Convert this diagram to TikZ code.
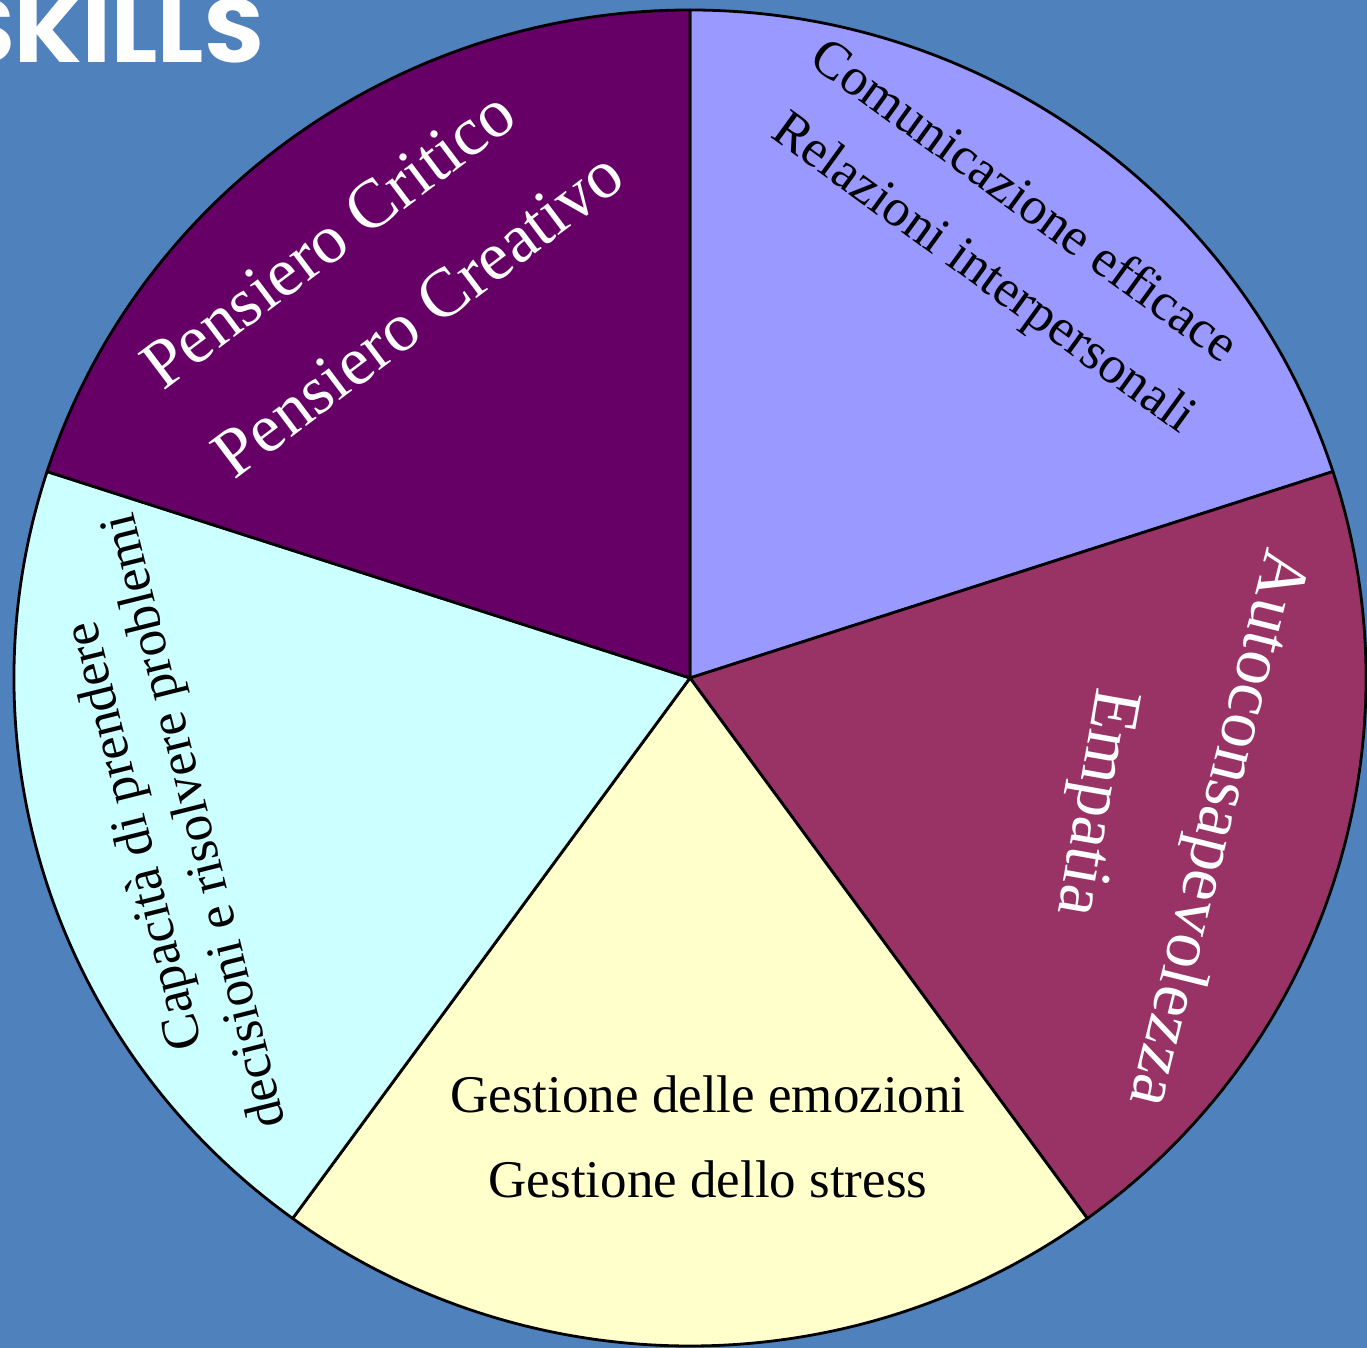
\documentclass[tikz,border=0pt]{standalone}
\usepackage{fontspec}
\setmainfont{Liberation Serif}
\newfontfamily\titlefont{Poppins}
\definecolor{bgblue}{RGB}{79,129,189}
\definecolor{slA}{RGB}{153,153,255}
\definecolor{slB}{RGB}{153,51,102}
\definecolor{slC}{RGB}{255,255,204}
\definecolor{slD}{RGB}{204,255,255}
\definecolor{slE}{RGB}{102,0,102}
\begin{document}
\begin{tikzpicture}[x=1pt,y=1pt,
  slice/.style={draw=black,line width=2.8pt,line join=round},
  small/.style={font=\fontsize{53}{62}\selectfont,inner sep=0pt},
  big/.style={font=\fontsize{69}{80}\selectfont,inner sep=0pt,text=white}]
\useasboundingbox (0,0) rectangle (1367,1348);
\fill[bgblue] (0,0) rectangle (1367,1348);
\coordinate (O) at (690,670);
\filldraw[slice,fill=slA] (O) -- +(90:676 and 668) arc[start angle=90,end angle=18,x radius=676,y radius=668] -- cycle;
\filldraw[slice,fill=slB] (O) -- +(18:676 and 668) arc[start angle=18,end angle=-54,x radius=676,y radius=668] -- cycle;
\filldraw[slice,fill=slC] (O) -- +(-54:676 and 668) arc[start angle=-54,end angle=-126,x radius=676,y radius=668] -- cycle;
\filldraw[slice,fill=slD] (O) -- +(-126:676 and 668) arc[start angle=-126,end angle=-198,x radius=676,y radius=668] -- cycle;
\filldraw[slice,fill=slE] (O) -- +(162:676 and 668) arc[start angle=162,end angle=90,x radius=676,y radius=668] -- cycle;
\node[anchor=base east,inner sep=0pt,text=white,xscale=1.08,font=\titlefont\bfseries\fontsize{90}{92}\selectfont] (title) at (264,1285) {SKILLS};
\node[small,rotate=-36] (comm) at (1026,1149) {Comunicazione efficace};
\node[small,rotate=-36] (rel) at (982,1073) {Relazioni interpersonali};
\node[big,rotate=-104] (auto) at (1215,520) {Autoconsapevolezza};
\node[big,rotate=-100] (emp) at (1093,546) {Empatia};
\node[small,anchor=base] (ges1) at (708,235) {Gestione delle emozioni};
\node[small,anchor=base] (ges2) at (708,150) {Gestione dello stress};
\node[small,rotate=104,align=center] (cap) at (167,520) {Capacità di prendere\\decisioni e risolvere problemi};
\node[big,rotate=37] (pc1) at (328,1109) {Pensiero Critico};
\node[big,rotate=37] (pc2) at (418,1034) {Pensiero Creativo};
\end{tikzpicture}
\end{document}
